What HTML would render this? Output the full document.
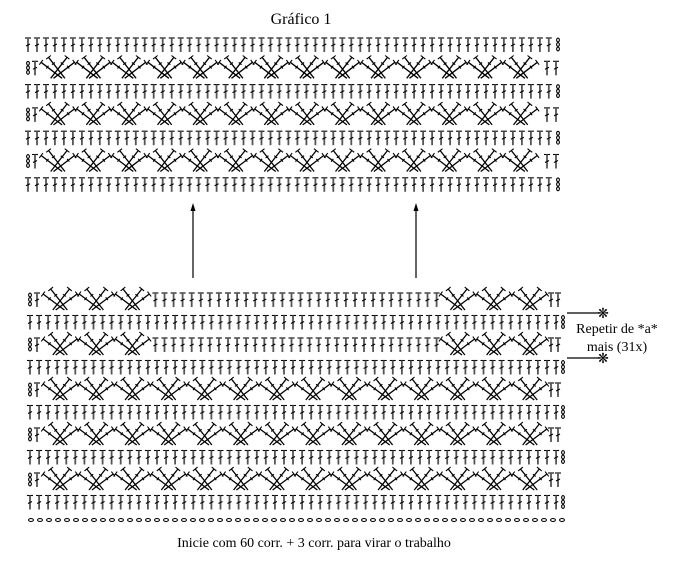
<!DOCTYPE html>
<html><head><meta charset="utf-8"><style>
html,body{margin:0;padding:0;background:#fff;width:677px;height:563px;overflow:hidden}
svg{position:absolute;left:0;top:0}
text{font-family:"Liberation Serif",serif;fill:#000}
</style></head><body>
<svg id="s" width="677" height="563" viewBox="0 0 677 563" xmlns="http://www.w3.org/2000/svg">
<text x="301" y="24" font-size="16" text-anchor="middle">Gráfico 1</text>
<text x="314" y="547" font-size="14" text-anchor="middle">Inicie com  60 corr. + 3 corr. para virar o trabalho</text>
<text x="617" y="333" font-size="14" text-anchor="middle">Repetir de *a*</text>
<text x="617" y="351" font-size="14" text-anchor="middle">mais (31x)</text>
<g stroke="#000" stroke-width="1.2">
<line x1="193" y1="278" x2="193" y2="208"/><line x1="416" y1="278" x2="416" y2="208"/>
<line x1="567" y1="313" x2="598" y2="313"/><line x1="567" y1="358" x2="598" y2="358"/>
</g>
<polygon points="193,203 190.5,211 195.5,211" fill="#000"/>
<polygon points="416,203 413.5,211 418.5,211" fill="#000"/>
<text x="603" y="318" font-size="14" text-anchor="middle">❋</text>
<text x="603" y="363" font-size="14" text-anchor="middle">❋</text>
<g id="g" stroke="#000" fill="none" stroke-width="1.1"></g>
</svg>
<script>
var g=document.getElementById('g'),h='';
function L(a,b,c,d,col,w){h+='<line x1="'+a.toFixed(1)+'" y1="'+b.toFixed(1)+'" x2="'+c.toFixed(1)+'" y2="'+d.toFixed(1)+'"'+(col?' stroke="'+col+'" stroke-width="'+w+'"':'')+'/>';}
function T(x,cy){var t=cy-7,b=cy+7;L(x-3,t,x+3,t);L(x,t,x,b,'#555',1.8);L(x-2,cy+1,x+2,cy-1);}
function C(x,cy){for(var i=0;i<3;i++){h+='<ellipse cx="'+x+'" cy="'+(cy-5+i*4.5)+'" rx="1.4" ry="1.9"/>';}}
function CH(x,y){h+='<ellipse cx="'+x+'" cy="'+y+'" rx="2.4" ry="1.5"/>';}
function X(x,cy,w){var t=cy-11,b=cy+10;
 var sets=[[w*0.3,b,w*0.76,t],[w*0.38,b,w*0.97,t+5],[w*0.7,b,w*0.24,t],[w*0.62,b,w*0.03,t+5]];
 sets.forEach(function(s){L(x+s[0],s[1],x+s[2],s[3],'#000',1.3);
  var dx=s[2]-s[0],dy=s[3]-s[1],len=Math.hypot(dx,dy),px=-dy/len*3,py=dx/len*3;
  L(x+s[2]-px,s[3]-py,x+s[2]+px,s[3]+py);
  var mx=x+s[0]+dx*0.7,my=s[1]+dy*0.7;L(mx-px*0.6,my-py*0.6,mx+px*0.6,my+py*0.6);});}
for(var r=0;r<7;r++){var cy=45+r*23.3;
 if(r%2==0){for(var i=0;i<59;i++)T(28+i*8.98,cy);C(558,cy);}
 else{C(28,cy);T(35,cy);for(var k=0;k<14;k++)X(40+k*35.6,cy,35.6);T(547,cy);T(556,cy);}}
for(var r=0;r<10;r++){var cy=300+r*22.5;
 if(r%2==1){for(var i=0;i<59;i++)T(30+i*9.07,cy);C(563,cy);}
 else{C(30,cy);T(37,cy);var cw=(548-42)/14;
  if(r<4){for(var k=0;k<3;k++)X(42+k*cw,cy,cw);for(var k=11;k<14;k++)X(42+k*cw,cy,cw);
   for(var x=42+3*cw+5;x<42+11*cw-2;x+=9.07)T(x,cy);}
  else{for(var k=0;k<14;k++)X(42+k*cw,cy,cw);}
  T(551,cy);T(558,cy);}}
for(var i=0;i<60;i++)CH(31+i*9.0,520);
g.innerHTML=h;
</script>
</body></html>
